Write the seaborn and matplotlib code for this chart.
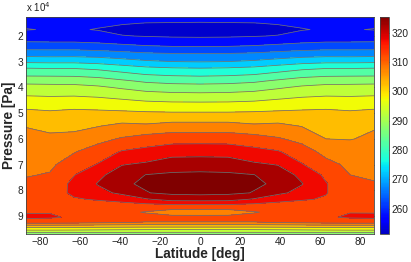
import numpy as np
import matplotlib
matplotlib.use("Agg")
import matplotlib.pyplot as plt
import seaborn as sns
from matplotlib.ticker import FuncFormatter
from matplotlib.cm import ScalarMappable

# ---------------- data ----------------
latitudes = [-87, -75, -63, -51, -39, -27, -14, 0, 14, 27, 39, 51, 63, 75, 87]
pressure_pa = [12600, 15000, 17500, 20000, 22500, 25000, 27500, 30000, 32500,
               35000, 37500, 40000, 45000, 50000, 55000, 60000, 65000, 70000,
               74000, 77500, 81000, 83500, 86000, 88500, 90500, 92500, 94000,
               95500, 97000]

# temperature [K] columns, one per latitude, top (low pressure) to bottom
t_m87 = [257.0, 256.0, 254.8, 257.5, 260.3, 264.4, 269.0, 274.2, 280.0, 284.0, 288.5, 291.7, 296.8, 301.4,
         304.8, 306.5, 307.6, 308.6, 309.7, 310.8, 311.8, 312.5, 313.3, 314.6, 316.0, 312.0, 302.5, 295.0, 286.5]
t_m75 = [257.0, 256.0, 255.3, 257.3, 260.2, 264.3, 268.8, 274.0, 279.8, 283.9, 288.4, 291.5, 296.5, 300.8,
         303.8, 306.0, 307.8, 309.2, 310.3, 311.8, 313.0, 313.6, 314.0, 314.8, 315.6, 312.0, 302.5, 295.0, 286.5]
t_m63 = [257.0, 256.0, 255.4, 257.3, 260.2, 264.3, 268.9, 274.0, 279.8, 283.8, 288.2, 291.5, 296.7, 301.4,
         303.8, 306.5, 309.7, 312.3, 314.8, 316.2, 315.8, 314.6, 313.8, 313.8, 314.3, 311.5, 302.2, 294.8, 286.8]
t_m51 = [257.0, 255.7, 254.8, 256.5, 259.7, 263.8, 268.5, 273.3, 279.0, 283.0, 287.4, 290.8, 296.3, 301.2,
         304.8, 308.5, 312.3, 315.3, 318.8, 320.3, 318.5, 315.4, 313.0, 312.5, 313.0, 310.8, 302.0, 294.5, 287.0]
t_m39 = [256.9, 255.35, 253.8, 255.2, 258.8, 263.0, 267.7, 272.0, 277.5, 281.5, 285.8, 289.4, 295.5, 301.0,
         306.2, 310.5, 315.4, 319.8, 322.6, 324.4, 321.0, 317.0, 312.5, 311.0, 312.0, 310.2, 301.8, 294.2, 287.0]
t_m27 = [256.8, 254.9, 253.3, 254.8, 258.0, 262.1, 266.8, 270.8, 276.0, 280.0, 284.2, 288.0, 294.6, 300.7,
         305.8, 312.2, 316.5, 320.8, 325.1, 325.6, 324.8, 319.5, 313.0, 309.7, 311.5, 309.8, 301.5, 294.0, 287.0]
t_m14 = [256.8, 254.8, 253.1, 254.5, 257.5, 261.6, 266.4, 270.1, 275.3, 279.3, 283.4, 287.3, 294.2, 300.5,
         306.9, 313.0, 318.0, 322.7, 325.7, 326.4, 326.0, 321.8, 313.5, 307.6, 311.5, 309.8, 301.5, 294.0, 287.0]
t_0 = [256.8, 254.7, 253.0, 254.4, 257.4, 261.5, 266.3, 269.9, 275.0, 279.0, 283.1, 287.1, 294.1, 300.5,
       306.9, 313.1, 318.1, 322.9, 325.9, 326.6, 326.3, 322.0, 313.5, 307.5, 311.5, 309.8, 301.5, 294.0, 287.0]
t_p14 = [256.8, 254.8, 253.1, 254.5, 257.5, 261.6, 266.4, 270.1, 275.3, 279.3, 283.4, 287.3, 294.2, 300.5,
         306.9, 313.0, 318.0, 322.7, 325.7, 326.4, 326.0, 321.8, 313.5, 307.6, 311.5, 309.8, 301.5, 294.0, 287.0]
t_p27 = [256.8, 254.9, 253.3, 254.8, 258.0, 262.1, 266.8, 270.8, 276.0, 280.0, 284.2, 288.0, 294.6, 300.7,
         305.8, 312.2, 316.5, 320.8, 325.1, 325.6, 324.8, 319.5, 313.0, 309.7, 311.5, 309.8, 301.5, 294.0, 287.0]
t_p39 = [256.9, 255.35, 253.8, 255.2, 258.8, 263.0, 267.7, 272.0, 277.5, 281.5, 285.8, 289.4, 295.5, 301.0,
         306.2, 310.5, 315.4, 319.8, 322.6, 324.4, 321.0, 317.0, 312.5, 311.0, 312.0, 310.2, 301.8, 294.2, 287.0]
t_p51 = [257.0, 255.7, 254.8, 256.5, 259.7, 263.8, 268.5, 273.3, 279.0, 283.0, 287.4, 290.8, 296.3, 301.2,
         304.8, 308.5, 312.3, 315.3, 318.8, 320.2, 318.5, 315.4, 313.0, 312.5, 313.0, 310.8, 302.0, 294.5, 287.0]
t_p63 = [257.0, 256.0, 255.4, 257.3, 260.2, 264.3, 268.9, 274.0, 279.8, 283.8, 288.2, 291.5, 296.7, 301.4,
         304.0, 305.0, 308.5, 311.5, 314.0, 315.3, 315.2, 314.6, 313.8, 313.8, 314.5, 311.5, 302.2, 294.8, 286.8]
t_p75 = [257.0, 256.0, 255.3, 257.3, 260.2, 264.3, 268.8, 274.0, 279.8, 283.9, 288.4, 291.5, 296.5, 300.8,
         303.5, 304.8, 307.3, 309.0, 310.0, 311.3, 312.5, 313.2, 313.8, 314.9, 315.5, 312.0, 302.5, 295.0, 286.5]
t_p87 = [257.0, 256.0, 254.8, 257.5, 260.3, 264.4, 269.0, 274.2, 280.0, 284.0, 288.5, 291.7, 296.8, 301.4,
         304.6, 305.8, 307.2, 308.4, 309.4, 310.3, 311.6, 312.3, 313.2, 314.8, 315.8, 312.0, 302.5, 295.0, 286.5]

contour_levels = [250, 255, 260, 265, 270, 275, 280, 285, 290, 295, 300, 305,
                  310, 315, 320, 325, 330]
cmap_range = [247.0, 325.4]       # range over which the jet colormap runs
cbar_range = [251.4, 325.4]       # range shown on the colorbar
lat_ticks = [-80, -60, -40, -20, 0, 20, 40, 60, 80]
pressure_ticks = [20000, 30000, 40000, 50000, 60000, 70000, 80000, 90000]
cbar_ticks = [260, 270, 280, 290, 300, 310, 320]

# ---------------- style ----------------
sns.set_theme(style="white")
plt.rcParams["font.family"] = ["Liberation Sans", "DejaVu Sans"]
plt.rcParams["axes.unicode_minus"] = True

temperature = np.column_stack([t_m87, t_m75, t_m63, t_m51, t_m39, t_m27, t_m14, t_0,
                               t_p14, t_p27, t_p39, t_p51, t_p63, t_p75, t_p87])

W, H = 411, 262
fig = plt.figure(figsize=(W / 100, H / 100), dpi=100)
ax = fig.add_axes([26 / W, 28 / H, 348 / W, 217 / H])
cax = fig.add_axes([380 / W, 28 / H, 9 / W, 217 / H])

cmap = matplotlib.colormaps["jet"]
norm = plt.Normalize(cmap_range[0], cmap_range[1])

ax.contourf(latitudes, pressure_pa, temperature, levels=contour_levels,
            cmap=cmap, norm=norm)
ax.contour(latitudes, pressure_pa, temperature, levels=contour_levels[1:-1],
           colors="#6f6f6f", linewidths=0.55)

ax.set_xlim(-87, 87)
ax.set_ylim(97000, 12600)
ax.set_xticks(lat_ticks)
ax.set_yticks(pressure_ticks)
ax.yaxis.set_major_formatter(FuncFormatter(lambda v, _: f"{v / 1e4:g}"))
ax.tick_params(direction="in", length=2.5, width=0.5, bottom=True, left=True,
               top=True, right=True, labelsize=7.3, pad=2, colors="#222222")
for s in ax.spines.values():
    s.set_color("#444444")
    s.set_linewidth(0.6)

ax.set_xlabel("Latitude [deg]", fontsize=9.8, fontweight="bold", labelpad=0)
ax.set_ylabel("Pressure [Pa]", fontsize=9.8, fontweight="bold", labelpad=1)
ax.text(0.0, 0.022, r"x 10$^{4}$", transform=ax.transAxes, ha="left",
        va="baseline", fontsize=7.0, color="#222222")
ax.texts[-1].set_y(1.022)

sm = ScalarMappable(norm=norm, cmap=cmap)
cb = fig.colorbar(sm, cax=cax, boundaries=np.linspace(cbar_range[0], cbar_range[1], 200))
cb.set_ticks(cbar_ticks)
cax.tick_params(direction="in", length=2, width=0.5, left=True, right=True,
                labelsize=7.3, pad=2, colors="#222222")
cb.outline.set_edgecolor("#444444")
cb.outline.set_linewidth(0.6)

fig.savefig("out.png", dpi=100)
